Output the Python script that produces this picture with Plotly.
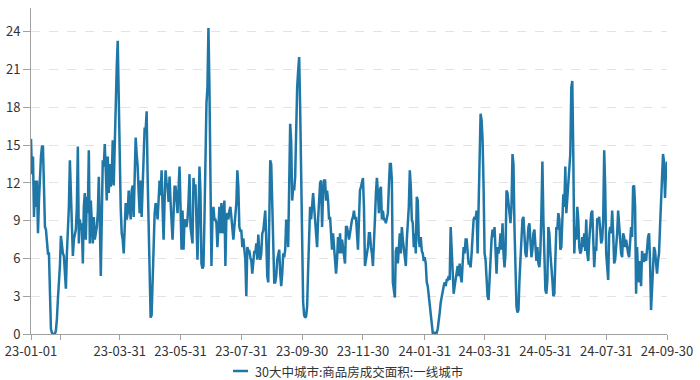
import pandas as pd
import plotly.graph_objects as go

series_name = "30大中城市:商品房成交面积:一线城市"

values_2023 = [
    15.5, 12.7, 14.1, 9.3, 12.2, 10.1, 12.2, 8.0, 10.6, 13.3,
    14.1, 14.9, 14.9, 11.7, 8.5, 8.3, 7.5, 6.4, 6.4, 2.8,
    0.4, 0.1, 0.0, 0.0, 0.0, 0.3, 1.2, 2.8, 4.1, 5.4,
    7.8, 7.0, 6.4, 6.2, 4.9, 3.6, 6.4, 8.0, 10.1, 13.8,
    11.7, 8.5, 6.2, 7.5, 8.0, 8.3, 10.1, 14.9, 7.2, 9.1,
    8.3, 8.8, 5.6, 10.1, 11.2, 7.5, 10.9, 9.6, 14.6, 7.2,
    10.6, 8.5, 7.2, 9.3, 7.5, 8.0, 8.5, 9.6, 12.5, 9.1,
    4.6, 9.1, 13.8, 13.3, 15.1, 13.0, 10.6, 14.1, 11.2, 13.5,
    11.7, 12.5, 15.4, 11.8, 15.4, 18.5, 21.2, 23.3, 18.5, 13.0,
    10.0, 8.0, 7.5, 6.4, 9.1, 10.4, 9.1, 9.6, 11.4, 10.1,
    9.1, 11.4, 11.8, 9.3, 11.7, 15.6, 14.3, 13.3, 11.2, 9.6,
    12.2, 9.3, 11.7, 13.8, 16.4, 16.2, 17.7, 12.5, 8.0, 4.0,
    1.3, 1.5, 4.5, 7.7, 9.5, 10.4, 10.0, 9.1, 10.5, 12.2,
    11.0, 13.0, 10.0, 7.5, 10.5, 13.0, 12.0, 11.7, 10.5, 12.5,
    10.5, 8.3, 7.5, 9.5, 11.7, 11.7, 10.5, 9.6, 11.5, 13.3,
    10.1, 6.7, 9.8, 6.7, 9.1, 9.0, 8.5, 9.1, 10.5, 12.7,
    8.5, 7.5, 7.2, 12.4, 11.2, 11.9, 9.6, 5.9, 9.1, 13.3,
    11.2, 5.6, 5.2, 5.4, 9.1, 15.6, 18.3, 19.6, 24.3, 19.6,
    11.7, 5.4, 9.1, 10.1, 9.1, 9.1, 8.8, 6.9, 8.5, 10.1,
    8.0, 10.4, 8.0, 9.6, 10.6, 5.4, 9.3, 9.6, 9.1, 9.8,
    10.1, 9.3, 8.5, 7.5, 8.5, 9.8, 10.4, 13.0, 11.7, 8.5,
    8.2, 8.2, 6.9, 7.6, 6.9, 5.9, 3.0, 6.9, 6.6, 6.6,
    6.1, 5.8, 4.8, 5.8, 6.6, 6.4, 7.2, 5.9, 7.9, 6.6,
    5.9, 6.4, 8.0, 8.2, 9.1, 9.8, 7.5, 4.6, 4.1, 9.1,
    13.8, 13.5, 10.1, 5.9, 4.1, 4.1, 4.6, 5.9, 6.4, 6.7,
    4.8, 3.8, 4.8, 6.4, 6.1, 6.7, 9.1, 8.8, 6.9, 10.6,
    16.7, 15.3, 10.6, 11.7, 11.4, 12.5, 17.0, 19.6, 20.9, 22.0,
    18.0, 12.5, 10.5, 2.5, 1.5, 1.3, 1.4, 2.2, 5.1, 8.5,
    10.1, 9.1, 10.1, 11.2, 10.1, 9.1, 7.9, 6.9, 9.1, 11.2,
    12.0, 12.2, 8.5, 11.2, 12.2, 12.2, 10.6, 11.4, 10.6, 9.1,
    9.3, 8.0, 6.7, 8.0, 6.9, 6.4, 4.8, 5.9, 7.7, 6.4,
    8.0, 6.4, 7.5, 6.9, 6.4, 5.6, 8.5, 8.5, 8.0, 7.5,
    8.0, 8.8, 9.1, 9.3, 9.8, 9.1, 9.3, 8.0, 6.7, 9.1,
    11.4, 11.7, 12.2, 12.4, 10.1, 5.4, 5.9, 6.4, 6.9, 8.0,
    8.0, 6.9, 6.4, 5.4, 8.0, 9.1, 11.2, 12.4, 11.2, 9.6,
    11.4, 11.7, 9.1, 9.8, 9.1, 9.1, 8.8, 9.1, 9.6, 11.7,
    13.5, 13.5, 12.2, 4.1, 3.2,
]

values_2024 = [
    2.9, 6.6, 6.9, 5.6, 6.9, 8.0, 6.4, 8.5, 7.5, 6.7,
    6.1, 5.4, 7.5, 9.1, 10.1, 13.0, 11.7, 9.1, 8.8, 6.9,
    8.0, 6.4, 10.9, 10.6, 7.5, 6.9, 7.7, 6.6, 6.4, 5.8,
    6.1, 5.6, 4.1, 3.8, 3.0, 2.2, 1.2, 0.4, 0.1, 0.1,
    0.1, 0.1, 0.1, 0.4, 0.9, 1.7, 2.5, 3.0, 3.5, 3.8,
    4.1, 3.8, 4.3, 4.3, 4.6, 4.3, 8.5, 6.4, 4.3, 3.2,
    3.8, 4.3, 4.8, 5.4, 4.6, 5.6, 4.6, 4.1, 5.6, 6.9,
    6.4, 7.5, 7.5, 6.1, 5.6, 5.6, 5.3, 6.4, 8.5, 9.1,
    9.3, 9.1, 9.8, 6.4, 10.1, 13.8, 17.5, 17.0, 15.4, 11.7,
    6.4, 5.9, 3.8, 3.0, 2.7, 4.3, 6.4, 7.5, 8.3, 7.7,
    8.5, 6.4, 4.8, 6.9, 6.4, 6.9, 8.0, 6.7, 8.8, 6.4,
    5.3, 6.4, 11.4, 11.2, 10.1, 9.6, 8.8, 10.1, 14.3, 13.5,
    8.5, 5.9, 2.2, 1.7, 1.9, 4.3, 5.9, 6.4, 9.1, 9.3,
    7.7, 6.4, 6.1, 8.0, 8.5, 8.8, 6.7, 6.1, 6.7, 8.0,
    8.3, 6.9, 5.8, 6.9, 5.6, 5.3, 6.6, 9.6, 13.7, 9.1,
    5.3, 3.5, 3.2, 4.3, 8.5, 8.0, 6.4, 5.6, 4.3, 3.0,
    3.2, 5.9, 8.5, 8.3, 9.6, 9.1, 6.7, 6.9, 9.6, 11.1,
    10.1, 13.3, 9.6, 10.6, 11.7, 13.3, 14.3, 19.6, 20.1, 14.3,
    6.4, 8.5, 7.5, 10.1, 9.1, 6.9, 6.4, 6.6, 7.7, 6.9,
    8.0, 6.6, 9.1, 6.4, 5.8, 7.5, 8.5, 9.6, 9.8, 7.5,
    5.3, 6.9, 6.6, 9.1, 9.1, 9.3, 7.7, 7.2, 7.5, 9.1,
    14.6, 11.7, 6.4, 4.8, 4.3, 8.0, 8.5, 8.0, 9.8, 8.0,
    5.6, 5.9, 6.9, 8.0, 9.8, 8.5, 6.9, 6.4, 6.1, 8.0,
    7.7, 6.9, 7.5, 6.7, 6.4, 6.1, 8.0, 8.5, 7.7, 11.7,
    11.8, 10.1, 3.2, 6.9, 4.8, 4.1, 5.8, 3.8, 6.6, 5.8,
    5.8, 6.4, 5.8, 6.9, 7.7, 8.0, 5.8, 1.9, 3.8, 6.4,
    6.9, 6.6, 5.5, 4.8, 5.8, 6.4, 8.5, 10.6, 13.7, 14.3,
    13.7, 10.8, 13.0, 13.7,
]

tick_dates = ["2023-01-01", "2023-01-31", "2023-03-31", "2023-05-31", "2023-07-31",
              "2023-09-30", "2023-11-30", "2024-01-31", "2024-03-31", "2024-05-31",
              "2024-07-31", "2024-09-30"]
tick_labels = ["23-01-01", "", "23-03-31", "23-05-31", "23-07-31", "23-09-30",
               "23-11-30", "24-01-31", "24-03-31", "24-05-31", "24-07-31", "24-09-30"]

dates = list(pd.date_range("2023-01-01", periods=len(values_2023), freq="D")) + \
        list(pd.date_range("2024-01-01", periods=len(values_2024), freq="D"))
values = values_2023 + values_2024

FONT = "Noto Sans CJK SC, Noto Sans, sans-serif"
AXIS_COLOR = "#a0a0a0"
LINE_COLOR = "#1f77a8"

W, H = 700, 380
ML, MR, MT, MB = 31, 33, 8, 46
PW, PH = W - ML - MR, H - MT - MB


def px_x(px):
    return (px - ML) / PW


def px_y(py):
    return (H - MB - py) / PH


fig = go.Figure()
fig.add_trace(go.Scatter(
    x=dates, y=values, mode="lines", name=series_name,
    line=dict(color=LINE_COLOR, width=2.5), showlegend=False,
))

# legend (symbol + label) drawn below the plot
legend_y = px_y(371)
fig.add_shape(type="line", xref="paper", yref="paper",
              x0=px_x(233), x1=px_x(248), y0=legend_y, y1=legend_y,
              line=dict(color=LINE_COLOR, width=2.5))
fig.add_annotation(xref="paper", yref="paper", x=px_x(253), y=legend_y,
                   xanchor="left", yanchor="middle", showarrow=False,
                   text=series_name, font=dict(size=12.5, color="#333333"))

fig.update_layout(
    width=W, height=H,
    margin=dict(l=ML, r=MR, t=MT, b=MB, autoexpand=False),
    paper_bgcolor="white", plot_bgcolor="white",
    font=dict(family=FONT, size=13, color="#333333"),
    showlegend=False,
)
fig.update_xaxes(
    type="date", range=["2023-01-01", "2024-09-30"],
    tickmode="array", tickvals=tick_dates, ticktext=tick_labels, tickangle=0,
    showgrid=False, showline=True, linecolor=AXIS_COLOR, linewidth=1,
    ticks="outside", ticklen=5, tickcolor=AXIS_COLOR,
    tickfont=dict(size=13, color="#333333"), zeroline=False, automargin=False,
)
fig.update_yaxes(
    range=[0, 25.9], tick0=0, dtick=3,
    showgrid=True, gridcolor="#e3e3e3", griddash="dash", gridwidth=1,
    showline=True, linecolor=AXIS_COLOR, linewidth=1,
    ticks="outside", ticklen=7, tickcolor=AXIS_COLOR,
    tickfont=dict(size=13, color="#333333"), zeroline=False, automargin=False,
)

fig.write_html("out.html", config={"displayModeBar": False},
               post_script="document.body.style.margin='0';")
